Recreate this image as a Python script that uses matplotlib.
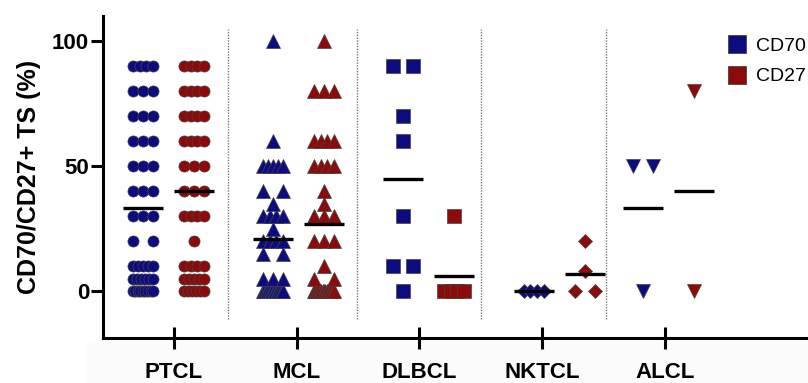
import numpy as np
import matplotlib.pyplot as plt
from matplotlib.lines import Line2D
from matplotlib.patches import Rectangle

plt.rcParams['font.family'] = ['Liberation Sans', 'DejaVu Sans']

# values (% positive tumour cells)
groups = ['PTCL', 'MCL', 'DLBCL', 'NKTCL', 'ALCL']
markers = ['o', '^', 's', 'D', 'v']
marker_sizes = [8, 10, 10, 7, 10]

ptcl_cd70 = [90]*4 + [80]*3 + [70]*3 + [60]*3 + [50]*3 + [40]*3 + [30]*3 + [20]*2 + [10]*5 + [5]*6 + [0]*9
ptcl_cd27 = [90]*4 + [80]*4 + [70]*4 + [60]*4 + [50]*3 + [40]*3 + [30]*4 + [20]*1 + [10]*4 + [5]*5 + [0]*6
mcl_cd70 = [100, 60] + [50]*5 + [40]*2 + [35] + [30]*4 + [25] + [20]*4 + [15]*2 + [5]*3 + [0]*14
mcl_cd27 = [100] + [80]*3 + [60]*4 + [50]*4 + [40, 35] + [30]*3 + [20]*3 + [10, 5, 5] + [0]*15
dlbcl_cd70 = [90, 90, 70, 60, 30, 10, 10, 0]
dlbcl_cd27 = [30, 0, 0, 0, 0]
nktcl_cd70 = [0, 0, 0, 0]
nktcl_cd27 = [20, 8, 0, 0]
alcl_cd70 = [50, 50, 0]
alcl_cd27 = [80, 0]

cd70 = [ptcl_cd70, mcl_cd70, dlbcl_cd70, nktcl_cd70, alcl_cd70]
cd27 = [ptcl_cd27, mcl_cd27, dlbcl_cd27, nktcl_cd27, alcl_cd27]

blue = '#0c0c80'
red = '#8c0a0a'

# column layout (the original columns are not quite centred on the ticks)
centers = [-0.045, 1.014, 2.074, 3.14, 4.03]
half_gap = 0.208
spread = 0.083
mean_half = 0.165
separators = [0.44, 1.49, 2.50, 3.52]


def swarm(ax, x0, vals, color, marker, ms):
    vals = np.asarray(vals, dtype=float)
    for v in np.unique(vals):
        n = int((vals == v).sum())
        xs = [x0] if n == 1 else np.linspace(x0 - spread, x0 + spread, n)
        ax.plot(xs, [v]*n, linestyle='none', marker=marker, markersize=ms,
                markerfacecolor=color, markeredgecolor='#444444',
                markeredgewidth=0.5, zorder=3)
    ax.plot([x0 - mean_half, x0 + mean_half], [vals.mean()]*2,
            color='black', linewidth=2.4, zorder=4, solid_capstyle='butt')


fig = plt.figure(figsize=(8.08, 3.83), dpi=100)
# faint grey band under the axis, as in the scanned original
fig.patches.append(Rectangle((86/808, 0), 1, 41/383, transform=fig.transFigure,
                             facecolor='#fbfbfb', edgecolor='none', zorder=-1))
ax = fig.add_axes([0.1275, 0.1175, 0.8725, 0.8405])
ax.patch.set_alpha(0)

for i in range(len(groups)):
    swarm(ax, centers[i] - half_gap, cd70[i], blue, markers[i], marker_sizes[i])
    swarm(ax, centers[i] + half_gap, cd27[i], red, markers[i], marker_sizes[i])

for s in separators:
    ax.plot([s, s], [-11, 105], color='#777777', linestyle=(0, (1, 1)),
            linewidth=1, zorder=1)

ax.set_xlim(-0.578, 5.165)
ax.set_ylim(-18.8, 110)

ax.set_xticks(range(len(groups)))
ax.set_xticklabels(groups, fontsize=16, fontweight='bold')
ax.set_yticks([0, 50, 100])
ax.set_yticklabels(['0', '50', '100'], fontsize=16, fontweight='bold')
ax.tick_params(axis='x', direction='inout', length=16, width=2.2, pad=9)
ax.tick_params(axis='y', direction='out', length=8.5, width=2.2, pad=1.5)

ax.spines['top'].set_visible(False)
ax.spines['right'].set_visible(False)
ax.spines['left'].set_linewidth(2.2)
ax.spines['bottom'].set_linewidth(2.2)

ax.set_ylabel('CD70/CD27+ TS (%)', fontsize=18, fontweight='bold', labelpad=8)

# legend in the top right corner
handles = [Line2D([], [], linestyle='none', marker='s', markersize=13,
                  markerfacecolor=c, markeredgecolor='#444444', markeredgewidth=0.6)
           for c in (blue, red)]
ax.legend(handles, ['CD70', 'CD27'], loc='upper left', bbox_to_anchor=(0.888, 0.929),
          bbox_transform=fig.transFigure, frameon=False, fontsize=14,
          handlelength=1.0, handletextpad=0.5, labelspacing=0.68, borderpad=0)

plt.savefig('out.png', dpi=100)
